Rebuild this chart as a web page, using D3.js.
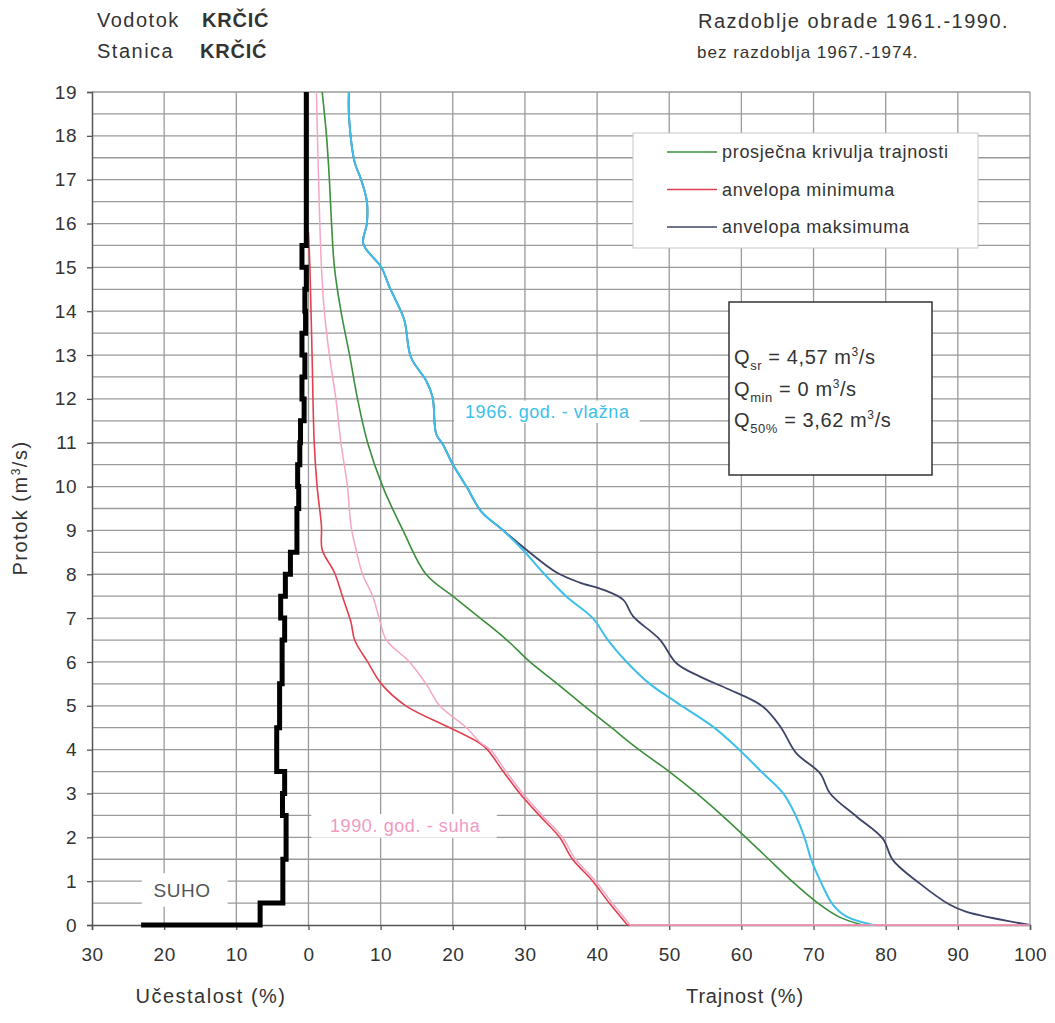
<!DOCTYPE html>
<html><head><meta charset="utf-8">
<script src="https://cdn.jsdelivr.net/npm/d3@7"></script>
<style>
html,body{margin:0;padding:0;background:#fff;}
svg text{font-family:"Liberation Sans",Arial,sans-serif;}
</style></head>
<body><svg id="c" width="1055" height="1023"></svg>
<script>
// ---- data ----
const xTicks = [-30,-20,-10,0,10,20,30,40,50,60,70,80,90,100];
const xTickLabels = ["30","20","10","0","10","20","30","40","50","60","70","80","90","100"];
const yTicks = d3.range(0,20);
const yTickLabels = yTicks.map(String);
const gridStepQ = 0.5;

// frequency (Učestalost %) per 0.5 m3/s class, lower bound of class
const classLow = [0,0.5,1,1.5,2,2.5,3,3.5,4,4.5,5,5.5,6,6.5,7,7.5,8,8.5,9,9.5,10,10.5,11,11.5,12,12.5,13,13.5,14,14.5,15,15.5,16,16.5,17,17.5,18,18.5];
const classFreq = [6.7,3.55,3.55,3.1,3.1,3.6,3.3,4.4,4.4,4.0,4.0,3.65,3.65,3.3,3.85,3.2,2.5,1.6,1.6,1.35,1.5,1.2,1.1,0.6,0.9,0.5,0.9,0.4,0.5,0.3,0.9,0.3,0.3,0.3,0.3,0.3,0.3,0.3];
const suhoFreq = 23.2;

// duration curves: [Trajnost %, Q m3/s]
const meanCurve = [[1.9,19],[2.5,18],[2.9,17],[3.2,16],[3.6,15],[4.5,14],[5.7,13],[6.8,12],[8.2,11],[10.3,10],[13.1,9],[16.3,8],[20,7.5],[23.8,7],[27.5,6.5],[30.7,6],[34.5,5.5],[38.2,5],[42,4.5],[45.8,4],[50,3.5],[53.8,3],[57.3,2.5],[60.6,2],[63.8,1.5],[67,1],[70.6,0.5],[73.6,0.18],[76.8,0]];
const minEnvelope = [[0,15.8],[0.2,15],[0.5,13],[0.8,11],[1.2,10],[1.8,9.1],[1.9,8.56],[3.6,8.04],[4.7,7.5],[5.9,6.9],[6.4,6.5],[8.2,6],[10.1,5.5],[13.5,5],[19.6,4.5],[23.7,4.15],[24.8,4],[27,3.5],[29.3,3],[32,2.5],[34.8,2],[36.6,1.5],[39.4,1],[41.7,0.5],[44.2,0],[100,0]];
const maxEnvelope = [[5.6,19],[5.6,18.5],[6.4,17.4],[7.3,17],[8.1,16.5],[8.1,16.0],[7.6,15.54],[10.1,15],[11.2,14.56],[12.1,14.25],[13.3,13.79],[14.2,12.95],[16.3,12.42],[17.2,12.04],[17.7,11.2],[18.6,10.97],[20,10.51],[21.9,10],[24,9.42],[26.7,9.04],[30.2,8.56],[34.4,8.04],[37.6,7.81],[40.8,7.65],[43.6,7.42],[45,7.04],[48.7,6.51],[51,5.97],[54.2,5.67],[57.9,5.4],[63,4.98],[65.5,4.5],[67.6,3.92],[70.9,3.46],[72.3,3],[76,2.47],[79.6,1.97],[81,1.48],[84.7,0.95],[88.9,0.46],[91.2,0.3],[100,0]];
const wet1966 = [[5.6,19],[5.6,18.5],[6.4,17.4],[7.3,17],[8.1,16.5],[8.1,16.0],[7.6,15.54],[10.1,15],[11.2,14.56],[12.1,14.25],[13.3,13.79],[14.2,12.95],[16.3,12.42],[17.2,12.04],[17.7,11.2],[18.6,10.97],[20,10.51],[21.9,10],[24,9.42],[26.7,9.04],[29.7,8.56],[32.5,8.04],[35.7,7.5],[39.4,7],[41.5,6.5],[44.1,6],[47.3,5.5],[50.8,5.1],[56.1,4.52],[59.3,4.06],[63,3.46],[65.8,3],[67.6,2.47],[68.8,1.97],[69.7,1.48],[71.1,0.95],[72.7,0.46],[74.6,0.19],[78.3,0]];
const dry1990 = [[1.1,19],[1.4,17],[1.8,15],[2.2,14],[2.9,13],[3.8,12],[4.5,11],[5.4,10],[5.9,9.1],[6.6,8.56],[7.5,8],[8.9,7.5],[9.8,7],[10.8,6.5],[14,6],[16.3,5.5],[18.2,5],[21.9,4.5],[23.9,4.15],[25.2,4],[27.4,3.5],[29.7,3],[32.4,2.5],[35.2,2],[37,1.5],[39.8,1],[42.1,0.5],[44.6,0],[100,0]];

const legendItems = ["prosječna krivulja trajnosti","anvelopa minimuma","anvelopa maksimuma"];
const colors = {mean:"#3b8f3d", min:"#e2404f", max:"#3e4468", wet:"#3dbfe9", dry:"#f5a6c8"};

// ---- drawing ----
const svg = d3.select("#c");
const x = d3.scaleLinear().domain([-30,100]).range([92,1030]);
const y = d3.scaleLinear().domain([0,19]).range([925,92]);
const grid = "#9a9a9a";
const txt = "#333";

// horizontal grid
svg.append("g").selectAll("line").data(d3.range(0.5,19.01,gridStepQ)).join("line")
  .attr("x1",x(-30)).attr("x2",x(100)).attr("y1",d=>y(d)).attr("y2",d=>y(d))
  .attr("stroke",grid).attr("stroke-width",1.3);
// vertical grid
svg.append("g").selectAll("line").data(xTicks.slice(1)).join("line")
  .attr("x1",d=>x(d)).attr("x2",d=>x(d)).attr("y1",y(0)).attr("y2",y(19))
  .attr("stroke",grid).attr("stroke-width",1.3);

// white backgrounds behind in-plot labels
const labelBoxes = [
  {x0:-23.1,x1:-11.2,q0:0.42,q1:1.18},
  {x0:0.4,x1:26.1,q0:1.99,q1:2.53},
  {x0:20.2,x1:45.9,q0:11.45,q1:11.96}
];
svg.append("g").selectAll("rect").data(labelBoxes).join("rect")
  .attr("x",d=>x(d.x0)).attr("width",d=>x(d.x1)-x(d.x0))
  .attr("y",d=>y(d.q1)).attr("height",d=>y(d.q0)-y(d.q1)).attr("fill","#fff");

// axes
const yAxis = d3.axisLeft(y).tickValues(yTicks).tickFormat((d,i)=>yTickLabels[i]).tickSize(5).tickPadding(10);
const gy = svg.append("g").attr("transform",`translate(${x(-30)},0)`).call(yAxis);
const xAxis = d3.axisBottom(x).tickValues(xTicks).tickFormat((d,i)=>xTickLabels[i]).tickSize(5).tickPadding(18);
const gx = svg.append("g").attr("transform",`translate(0,${y(0)})`).call(xAxis);
[gx,gy].forEach(g=>{
  g.select(".domain").attr("stroke","#555").attr("stroke-width",1.5);
  g.selectAll(".tick line").attr("stroke","#555").attr("stroke-width",1.3);
  g.selectAll("text").attr("font-size",19).attr("fill",txt).attr("letter-spacing",0.5)
   .style("font-family",'"Liberation Sans",Arial,sans-serif');
});

// curves: smooth down to Q = 0, straight along the zero line afterwards
const line = d3.line().x(d=>x(d[0])).y(d=>y(d[1]));
const smooth = d3.line().x(d=>x(d[0])).y(d=>y(d[1])).curve(d3.curveCatmullRom.alpha(0.5));
function curvePath(data){
  const i = data.findIndex(d=>d[1]===0);
  const head = data.slice(0,i+1), tail = data.slice(i);
  return smooth(head) + (tail.length>1 ? line(tail).replace(/^M/,"L") : "");
}
const curves = [
  {data:meanCurve,c:colors.mean,w:1.6},
  {data:minEnvelope,c:colors.min,w:1.6},
  {data:maxEnvelope,c:colors.max,w:1.8},
  {data:wet1966,c:colors.wet,w:2.0},
  {data:dry1990,c:colors.dry,w:1.5}
];
svg.append("g").selectAll("path").data(curves).join("path")
  .attr("d",d=>curvePath(d.data)).attr("fill","none")
  .attr("stroke",d=>d.c).attr("stroke-width",d=>d.w).attr("stroke-linejoin","round");

// frequency step line (Učestalost shown to the left of 0)
const stepPts = [[-suhoFreq,0]];
classLow.forEach((lo,i)=>{ stepPts.push([-classFreq[i],lo]); stepPts.push([-classFreq[i],lo+gridStepQ]); });
svg.append("path").attr("d",line(stepPts)).attr("fill","none")
  .attr("stroke","#000").attr("stroke-width",5).attr("stroke-linejoin","miter");

// in-plot labels
svg.append("text").attr("x",182).attr("y",y(0.8)+7).attr("text-anchor","middle")
  .attr("font-size",19).attr("letter-spacing",0.5).attr("fill","#555").text("SUHO");
svg.append("text").attr("x",330).attr("y",y(2.26)+6).attr("font-size",18).attr("letter-spacing",0.6)
  .attr("fill","#f29ac4").text("1990. god. - suha");
svg.append("text").attr("x",465).attr("y",y(11.7)+6).attr("font-size",18).attr("letter-spacing",0.6)
  .attr("fill","#3dbfe9").text("1966. god. - vlažna");

// legend
const lg = svg.append("g");
lg.append("rect").attr("x",633).attr("y",133).attr("width",345).attr("height",115)
  .attr("fill","#fff").attr("stroke","#c8c8c8").attr("stroke-width",1);
const legColors=[colors.mean,colors.min,colors.max];
legendItems.forEach((t,i)=>{
  const ly = 152 + i*37.5;
  lg.append("line").attr("x1",667).attr("x2",717).attr("y1",ly).attr("y2",ly)
    .attr("stroke",legColors[i]).attr("stroke-width",1.6);
  lg.append("text").attr("x",722).attr("y",ly+6).attr("font-size",18).attr("letter-spacing",0.7)
    .attr("fill",txt).text(t);
});

// statistics box
const sb = svg.append("g");
sb.append("rect").attr("x",729).attr("y",302).attr("width",203).attr("height",173)
  .attr("fill","#fff").attr("stroke","#333").attr("stroke-width",1.5);
const stats = [["sr"," =  4,57 m","3","/s"],["min"," = 0 m","3","/s"],["50%"," = 3,62 m","3","/s"]];
stats.forEach((s,i)=>{
  const t = sb.append("text").attr("x",734).attr("y",364+i*31.5).attr("font-size",20)
    .attr("letter-spacing",0.6).attr("fill",txt);
  t.append("tspan").text("Q");
  t.append("tspan").attr("font-size",13).attr("dy",6).text(s[0]);
  t.append("tspan").attr("dy",-6).text(s[1]);
  t.append("tspan").attr("font-size",12).attr("dy",-8).text(s[2]);
  t.append("tspan").attr("dy",8).text(s[3]);
});

// header
const hdr = svg.append("g");
const H = (xx,yy,fs,t,bold,ls)=>hdr.append("text").attr("x",xx).attr("y",yy).attr("font-size",fs)
  .attr("font-weight",bold?"bold":"normal").attr("letter-spacing",ls).attr("fill",txt).text(t);
H(97,27,20,"Vodotok",false,1.5);
H(202,27,20,"KRČIĆ",true,0.8);
H(97,58,20,"Stanica",false,1.5);
H(200,58,20,"KRČIĆ",true,0.8);
H(698,28,20,"Razdoblje obrade 1961.-1990.",false,1.5);
H(697,58,17,"bez razdoblja 1967.-1974.",false,1.0);

// axis titles
svg.append("text").attr("x",211).attr("y",1003).attr("text-anchor","middle").attr("font-size",20)
  .attr("letter-spacing",1.5).attr("fill",txt).text("Učestalost (%)");
svg.append("text").attr("x",745).attr("y",1003).attr("text-anchor","middle").attr("font-size",20)
  .attr("letter-spacing",0.8).attr("fill",txt).text("Trajnost (%)");
const yl = svg.append("text").attr("transform","translate(27,508) rotate(-90)").attr("text-anchor","middle")
  .attr("font-size",20).attr("letter-spacing",1.5).attr("fill",txt);
yl.append("tspan").text("Protok (m");
yl.append("tspan").attr("font-size",12).attr("dy",-7).text("3");
yl.append("tspan").attr("dy",7).text("/s)");
</script></body></html>
